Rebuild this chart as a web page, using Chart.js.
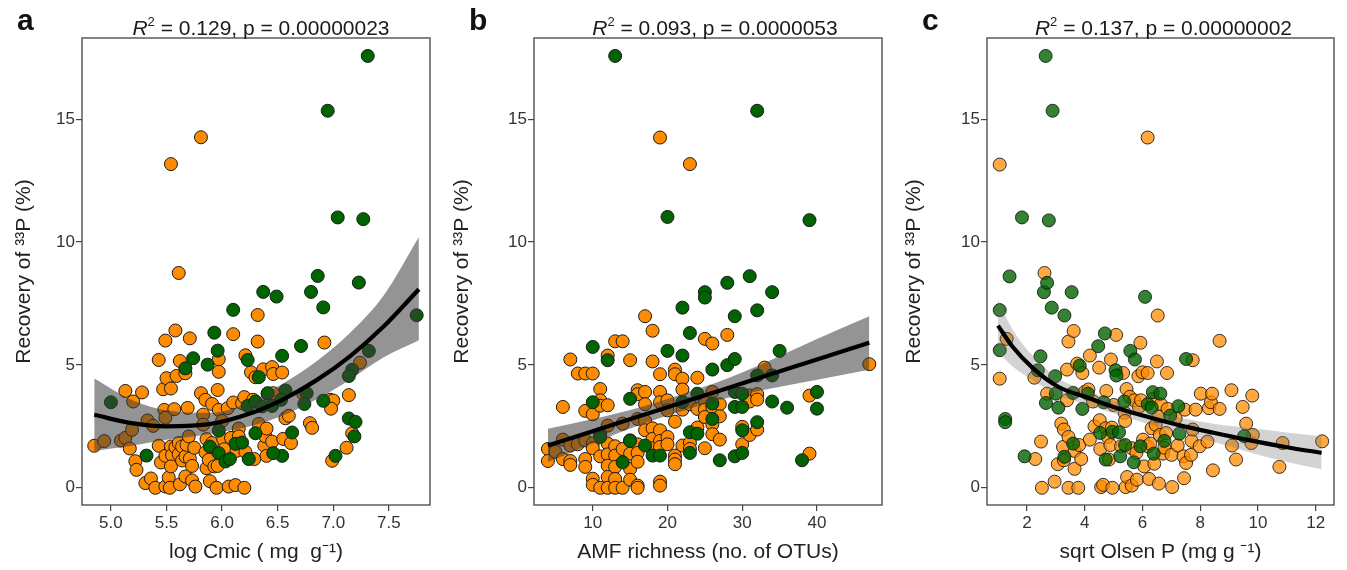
<!DOCTYPE html>
<html>
<head>
<meta charset="utf-8">
<script src="https://cdn.jsdelivr.net/npm/chart.js@4.4.0/dist/chart.umd.min.js"></script>
<style>
  html, body { margin: 0; padding: 0; background: #fff; }
  #wrap { position: relative; width: 1347px; height: 570px; overflow: hidden; }
  .panel { position: absolute; top: 0; height: 570px; }
</style>
</head>
<body>
<div id="wrap">
  <div class="panel" style="left:0;width:445px"><canvas id="chart-a" width="445" height="570"></canvas></div>
  <div class="panel" style="left:450px;width:445px"><canvas id="chart-b" width="445" height="570"></canvas></div>
  <div class="panel" style="left:895px;width:452px"><canvas id="chart-c" width="452" height="570"></canvas></div>
</div>
<script>
// --- shared axis ---
const recoveryTicks = [0, 5, 10, 15];

// --- panel a: log Cmic ---
const cmicTicks = [5.0, 5.5, 6.0, 6.5, 7.0, 7.5];
const cmicOrange = [[4.85,1.71],[4.94,1.90],[5.09,1.92],[5.13,2.03],[5.13,3.94],[5.17,1.60],[5.20,3.51],[5.22,1.08],[5.23,0.73],[5.19,2.36],[5.28,3.88],[5.31,0.19],[5.36,0.38],[5.33,2.74],[5.38,2.52],[5.40,0.0],[5.43,5.20],[5.45,1.03],[5.43,1.71],[5.47,4.01],[5.48,3.17],[5.49,5.99],[5.49,2.85],[5.50,4.46],[5.49,1.30],[5.49,0.05],[5.52,0.42],[5.53,0.0],[5.54,4.04],[5.54,1.68],[5.55,1.33],[5.57,3.20],[5.58,6.40],[5.59,4.55],[5.54,0.87],[5.58,1.65],[5.61,1.82],[5.61,1.36],[5.62,0.14],[5.62,5.16],[5.64,1.68],[5.64,1.11],[5.67,1.27],[5.67,4.66],[5.67,0.46],[5.68,1.75],[5.69,3.25],[5.70,2.09],[5.71,6.08],[5.71,1.19],[5.73,0.89],[5.73,0.30],[5.75,1.63],[5.76,0.05],[5.81,3.85],[5.83,2.98],[5.83,2.57],[5.85,3.58],[5.86,1.98],[5.85,1.44],[5.86,0.80],[5.88,1.14],[5.89,0.27],[5.91,3.41],[5.91,1.82],[5.93,0.87],[5.95,0.0],[5.96,0.89],[5.96,3.98],[5.97,5.23],[5.97,4.72],[5.97,3.17],[6.00,2.72],[6.01,1.98],[6.02,1.57],[6.05,3.24],[6.06,0.05],[6.08,2.03],[6.10,6.25],[6.10,3.47],[6.12,0.11],[6.13,1.50],[6.15,2.41],[6.15,2.09],[6.18,3.44],[6.20,0.0],[6.20,3.69],[6.21,5.39],[6.21,1.46],[6.26,4.70],[6.28,3.58],[6.29,1.17],[6.30,4.50],[6.32,5.95],[6.32,7.03],[6.33,2.60],[6.37,4.82],[6.38,1.71],[6.39,2.09],[6.40,2.41],[6.40,1.30],[6.41,3.82],[6.45,1.88],[6.45,4.91],[6.46,4.63],[6.46,3.85],[6.54,4.69],[6.55,1.99],[6.57,2.83],[6.60,2.93],[6.62,1.82],[6.73,3.82],[6.79,2.63],[6.81,2.44],[6.92,5.91],[6.97,3.58],[7.00,3.55],[6.98,3.22],[6.99,1.10],[7.12,1.63],[7.14,3.77],[7.17,2.22],[7.24,5.09],[5.61,8.74],[5.54,13.17],[5.81,14.26]];
const cmicGreen = [[5.00,3.48],[5.32,1.31],[5.67,4.86],[5.74,5.27],[5.87,5.01],[5.93,6.31],[5.96,5.58],[6.10,7.24],[6.23,5.20],[6.33,4.50],[6.37,7.97],[6.49,7.78],[6.54,5.37],[6.71,5.77],[6.80,7.97],[6.91,7.34],[7.32,5.57],[7.75,7.02],[7.17,4.80],[7.14,4.55],[6.41,3.85],[6.57,3.96],[6.76,3.85],[6.74,3.41],[6.91,3.54],[7.14,2.82],[7.20,2.68],[7.19,2.09],[7.02,1.30],[6.54,1.30],[6.63,2.25],[6.30,2.22],[5.97,2.33],[5.89,1.68],[5.97,1.41],[6.03,1.07],[6.07,1.17],[6.24,1.17],[6.12,1.79],[6.18,1.84],[6.23,3.33],[6.30,3.51],[6.36,3.31],[6.45,3.33],[6.53,3.58],[6.46,1.41],[6.86,8.62],[7.23,8.35],[7.04,11.0],[7.27,10.93],[6.95,15.34],[7.31,17.57]];
const cmicFitX  = [4.85, 5.2, 5.5, 5.9, 6.25, 6.55, 6.85, 7.15, 7.45, 7.77];
const cmicFit   = [2.97, 2.62, 2.50, 2.60, 3.02, 3.60, 4.38, 5.35, 6.55, 8.08];
const cmicUpper = [4.45, 3.55, 3.15, 3.05, 3.50, 4.25, 5.15, 6.30, 7.80, 10.2];
const cmicLower = [1.50, 1.72, 1.95, 2.20, 2.50, 2.95, 3.60, 4.40, 5.30, 6.00];

// --- panel b: AMF richness ---
const amfTicks = [10, 20, 30, 40];
const amfOrange = [[4,1.58],[4,1.09],[5,1.47],[6,3.29],[6,1.96],[6,1.17],[7,5.22],[7,1.72],[7,1.09],[7,0.93],[8,4.65],[8,1.77],[9,4.65],[9,3.13],[9,1.17],[9,0.85],[9,1.93],[10,4.65],[10,2.99],[10,1.80],[10,1.61],[10,0.37],[10,0.12],[11,4.02],[11,3.56],[11,3.34],[11,1.28],[11,0.0],[12,5.38],[12,3.36],[12,2.53],[12,1.80],[12,1.36],[12,0.90],[12,0.44],[12,0.0],[13,5.96],[13,1.69],[13,1.31],[13,0.85],[13,0.36],[13,0.0],[14,5.96],[14,2.61],[14,1.58],[14,0.0],[15,5.19],[15,1.93],[15,1.39],[15,0.77],[15,0.33],[16,3.97],[16,3.81],[16,2.80],[16,1.77],[16,1.42],[16,1.06],[16,0.09],[16,0.0],[17,6.98],[17,3.90],[17,3.40],[17,2.72],[17,2.34],[18,6.39],[18,5.14],[18,2.42],[18,1.99],[18,1.61],[19,4.62],[19,3.90],[19,3.48],[19,2.34],[19,1.91],[19,1.66],[19,0.25],[19,0.09],[20,3.56],[20,3.15],[20,2.07],[20,1.77],[21,4.81],[21,4.62],[21,2.69],[21,1.31],[21,1.15],[21,0.96],[22,4.44],[22,4.00],[22,3.43],[22,3.18],[22,1.72],[23,3.40],[23,1.83],[23,1.58],[24,4.48],[24,3.21],[24,2.45],[25,6.06],[25,3.56],[25,3.18],[25,2.88],[25,1.61],[26,5.87],[26,3.90],[26,3.29],[26,2.58],[26,2.18],[27,3.40],[27,2.91],[27,1.96],[28,6.22],[30,2.48],[30,1.77],[31,3.76],[31,3.51],[31,2.15],[32,3.81],[32,3.59],[32,2.37],[33,4.89],[39,3.75],[39,1.39],[47,5.03],[19,14.25],[23,13.17]];
const amfGreen = [[10,5.73],[10,3.48],[11,2.20],[11,2.07],[12,5.19],[14,1.04],[15,3.62],[15,1.91],[17,1.72],[18,1.31],[19,1.31],[20,5.57],[22,7.33],[22,5.38],[22,3.49],[23,6.30],[23,2.26],[23,1.42],[24,3.83],[24,2.20],[25,7.96],[25,7.74],[26,4.81],[26,3.43],[26,2.80],[27,1.12],[28,4.99],[29,6.98],[29,5.24],[29,3.90],[29,3.29],[29,1.28],[30,3.83],[30,3.29],[30,2.34],[30,1.42],[32,7.22],[32,4.57],[32,2.67],[34,7.96],[34,4.57],[34,3.51],[35,5.57],[36,3.26],[38,1.12],[40,3.90],[40,3.22],[13,17.57],[32,15.34],[20,11.02],[39,10.89],[28,8.34],[31,8.61]];
const amfFitX  = [4, 10, 16, 22, 28, 34, 40, 47];
const amfFit   = [1.72, 2.30, 2.89, 3.47, 4.05, 4.64, 5.22, 5.90];
const amfUpper = [2.40, 2.80, 3.25, 3.82, 4.45, 5.22, 6.05, 6.98];
const amfLower = [1.05, 1.80, 2.52, 3.12, 3.65, 4.05, 4.40, 4.80];

// --- panel c: sqrt Olsen P ---
const olsenTicks = [2, 4, 6, 8, 10, 12];
const olsenOrange = [[1.06,4.44],[1.30,6.06],[2.29,1.17],[2.49,1.88],[2.52,0.0],[2.26,4.48],[2.70,3.83],[2.96,0.25],[3.07,0.96],[3.19,2.61],[3.28,2.37],[3.25,1.66],[3.28,1.12],[3.39,4.81],[3.39,3.56],[3.44,0.0],[3.44,2.07],[3.44,5.95],[3.62,6.38],[3.65,1.50],[3.65,0.77],[3.74,5.05],[3.78,0.0],[3.81,1.74],[3.88,1.17],[3.92,4.67],[4.01,3.91],[4.13,4.00],[4.18,5.38],[4.18,1.96],[4.29,3.51],[4.34,2.50],[4.50,4.89],[4.52,2.75],[4.54,1.58],[4.57,0.03],[4.64,0.12],[4.75,3.94],[4.73,2.42],[4.80,2.07],[4.84,1.15],[4.89,1.74],[4.91,5.22],[4.94,2.45],[4.96,0.0],[5.00,3.37],[5.09,6.22],[5.26,1.69],[5.33,4.67],[5.38,3.05],[5.40,2.72],[5.42,0.03],[5.45,4.02],[5.47,0.44],[5.56,3.70],[5.63,1.61],[5.63,0.09],[5.72,3.56],[5.79,1.42],[5.81,0.33],[5.86,4.54],[5.88,3.29],[5.93,5.90],[5.95,3.56],[6.00,4.70],[6.02,1.96],[6.06,0.87],[6.18,4.67],[6.18,1.69],[6.23,0.36],[6.27,1.80],[6.32,2.42],[6.36,3.62],[6.41,0.98],[6.46,2.56],[6.50,5.14],[6.53,7.01],[6.55,2.91],[6.57,0.17],[6.60,2.15],[6.64,3.40],[6.71,1.39],[6.76,1.63],[6.82,2.23],[6.85,4.67],[6.87,3.21],[7.01,1.34],[7.03,0.03],[7.15,2.83],[7.22,1.72],[7.42,1.28],[7.44,0.39],[7.47,3.18],[7.51,1.01],[7.68,1.34],[7.70,1.91],[7.74,5.19],[7.74,2.37],[7.84,3.18],[7.98,1.69],[8.02,3.83],[8.25,1.88],[8.30,3.24],[8.37,3.48],[8.41,3.83],[8.44,0.71],[8.67,5.98],[8.67,3.21],[9.10,1.72],[9.08,3.97],[9.24,1.15],[9.47,3.29],[9.59,2.61],[9.80,3.75],[9.77,1.82],[9.82,2.15],[10.74,0.85],[10.85,1.82],[12.22,1.89],[1.06,13.15],[6.18,14.25],[2.61,8.74]];
const olsenGreen = [[1.06,7.23],[1.06,5.60],[1.25,2.80],[1.25,2.67],[1.92,1.28],[2.47,5.35],[2.38,4.78],[2.59,7.96],[2.86,7.33],[3.30,7.01],[3.55,7.96],[2.66,3.45],[2.98,4.54],[3.00,3.83],[3.09,3.26],[3.30,1.26],[3.60,3.86],[3.60,1.80],[3.83,4.97],[3.92,3.21],[4.11,3.83],[4.47,5.76],[4.54,2.23],[4.66,3.48],[4.70,6.28],[4.73,1.15],[4.96,2.28],[5.07,4.78],[5.10,4.57],[5.19,2.26],[5.23,1.28],[5.37,3.51],[5.40,1.74],[5.58,5.57],[5.70,1.04],[5.74,5.22],[5.93,1.69],[6.09,7.77],[6.18,3.40],[6.32,3.26],[6.36,3.89],[6.39,1.39],[6.62,3.83],[6.76,1.91],[6.96,2.94],[7.24,3.32],[7.28,2.20],[7.51,5.24],[9.52,2.10],[2.65,17.57],[2.89,15.34],[1.83,11.0],[2.76,10.88],[1.40,8.6],[2.70,8.34]];
const olsenFitX  = [1.0, 1.5, 2.2, 3.1, 4.1, 5.0, 6.2, 7.3, 8.5, 9.6, 11.0, 12.2];
const olsenFit   = [6.60, 5.75, 4.88, 4.10, 3.67, 3.29, 2.88, 2.54, 2.23, 1.96, 1.65, 1.42];
const olsenUpper = [7.65, 6.45, 5.38, 4.45, 3.95, 3.55, 3.15, 2.85, 2.60, 2.45, 2.25, 2.10];
const olsenLower = [5.55, 4.95, 4.38, 3.75, 3.38, 3.02, 2.60, 2.22, 1.85, 1.48, 1.05, 0.75];

const FONT = '"Liberation Sans", Arial, Helvetica, sans-serif';
Chart.defaults.font.family = FONT;

const toPts = arr => arr.map(p => ({ x: p[0], y: p[1] }));
const zip = (xs, ys) => xs.map((x, i) => ({ x, y: ys[i] }));

// box round the plot, panel letter and the R^2 heading
const panelDecor = {
    id: 'panelDecor',
    afterDraw(chart, args, o) {
        const { ctx, chartArea: a } = chart;
        ctx.save();
        ctx.strokeStyle = '#444';
        ctx.lineWidth = 1.3;
        ctx.strokeRect(a.left, a.top, a.right - a.left, a.bottom - a.top);

        ctx.fillStyle = '#111';
        ctx.textBaseline = 'alphabetic';
        ctx.font = 'bold 30px ' + FONT;
        ctx.fillText(o.letter, o.letterX, 30);

        const parts = [
            { t: 'R', f: 'italic 21px ' + FONT, dy: 0 },
            { t: '2', f: '13px ' + FONT, dy: -9 },
            { t: ' = ' + o.r2 + ', p = ' + o.p, f: '21px ' + FONT, dy: 0 }
        ];
        let total = 0;
        parts.forEach(pt => { ctx.font = pt.f; pt.w = ctx.measureText(pt.t).width; total += pt.w; });
        let x = (a.left + a.right) / 2 + o.shift - total / 2;
        ctx.fillStyle = '#1a1a1a';
        parts.forEach(pt => { ctx.font = pt.f; ctx.fillText(pt.t, x, 35 + pt.dy); x += pt.w; });
        ctx.restore();
    }
};

function axisGrid() {
    return { drawOnChartArea: false, drawTicks: true, tickLength: 6, color: '#444', lineWidth: 1.2 };
}

function makePanel(id, p) {
    const datasets = [
        { type: 'scatter', data: toPts(p.orange), backgroundColor: p.orangeFill, borderColor: p.edge,
          borderWidth: 1, pointRadius: 6.5, order: 4 },
        { type: 'scatter', data: toPts(p.green), backgroundColor: p.greenFill, borderColor: p.edge,
          borderWidth: 1, pointRadius: 6.5, order: 3 },
        { type: 'line', data: zip(p.fitX, p.upper), borderColor: 'rgba(0,0,0,0)', borderWidth: 0,
          pointRadius: 0, fill: '+1', backgroundColor: p.band, cubicInterpolationMode: 'monotone', order: 2 },
        { type: 'line', data: zip(p.fitX, p.lower), borderColor: 'rgba(0,0,0,0)', borderWidth: 0,
          pointRadius: 0, fill: false, cubicInterpolationMode: 'monotone', order: 2 },
        { type: 'line', data: zip(p.fitX, p.fit), borderColor: '#000', borderWidth: 4.2,
          pointRadius: 0, fill: false, cubicInterpolationMode: 'monotone', order: 1 }
    ];

    return new Chart(document.getElementById(id), {
        type: 'scatter',
        data: { datasets },
        plugins: [panelDecor],
        options: {
            responsive: false,
            animation: false,
            layout: { padding: { top: 38, right: p.padRight, left: 0, bottom: 0 } },
            plugins: {
                legend: { display: false },
                tooltip: { enabled: false },
                panelDecor: { letter: p.letter, letterX: p.letterX, r2: p.r2, p: p.p, shift: p.shift }
            },
            scales: {
                x: {
                    type: 'linear', min: p.xMin, max: p.xMax,
                    afterBuildTicks: s => { s.ticks = p.xTicks.map(v => ({ value: v })); },
                    afterFit: s => { s.height = 65; },
                    grid: axisGrid(),
                    border: { display: false },
                    ticks: { color: '#333', font: { size: 17 }, padding: 2, maxRotation: 0, autoSkip: false,
                             callback: p.xFmt },
                    title: { display: true, text: p.xTitle, color: '#222', font: { size: 21 },
                             padding: { top: 0, bottom: 5 } }
                },
                y: {
                    type: 'linear', min: -0.7, max: 18.3,
                    afterBuildTicks: s => { s.ticks = recoveryTicks.map(v => ({ value: v })); },
                    afterFit: s => { s.width = p.yWidth; },
                    grid: axisGrid(),
                    border: { display: false },
                    ticks: { color: '#333', font: { size: 17 }, padding: 1 },
                    title: { display: true, text: 'Recovery of ³³P (%)', color: '#222', font: { size: 21 },
                             padding: { top: p.yTitlePad, bottom: 0 } }
                }
            }
        }
    });
}

makePanel('chart-a', {
    orange: cmicOrange, green: cmicGreen,
    fitX: cmicFitX, fit: cmicFit, upper: cmicUpper, lower: cmicLower,
    orangeFill: '#ff8c00', greenFill: '#006400', edge: '#1a1a1a', band: 'rgba(60,60,60,0.55)',
    xMin: 4.74, xMax: 7.87, xTicks: cmicTicks, xFmt: v => v.toFixed(1),
    xTitle: 'log Cmic ( mg  g⁻¹)', yWidth: 82, yTitlePad: 12, padRight: 15,
    letter: 'a', letterX: 17, r2: '0.129', p: '0.00000023', shift: 5
});

makePanel('chart-b', {
    orange: amfOrange, green: amfGreen,
    fitX: amfFitX, fit: amfFit, upper: amfUpper, lower: amfLower,
    orangeFill: '#ff8c00', greenFill: '#006400', edge: '#1a1a1a', band: 'rgba(60,60,60,0.55)',
    xMin: 2.14, xMax: 48.7, xTicks: amfTicks, xFmt: v => v,
    xTitle: 'AMF richness (no. of OTUs)', yWidth: 84, yTitlePad: 0, padRight: 13,
    letter: 'b', letterX: 19, r2: '0.093', p: '0.0000053', shift: 7
});

makePanel('chart-c', {
    orange: olsenOrange, green: olsenGreen,
    fitX: olsenFitX, fit: olsenFit, upper: olsenUpper, lower: olsenLower,
    orangeFill: 'rgba(255,140,0,0.75)', greenFill: 'rgba(0,100,0,0.8)', edge: 'rgba(20,20,20,0.85)',
    band: 'rgba(110,110,110,0.3)',
    xMin: 0.62, xMax: 12.63, xTicks: olsenTicks, xFmt: v => v,
    xTitle: 'sqrt Olsen P (mg g ⁻¹)', yWidth: 92, yTitlePad: 7, padRight: 13,
    letter: 'c', letterX: 27, r2: '0.137', p: '0.00000002', shift: 3
});
</script>
</body>
</html>
